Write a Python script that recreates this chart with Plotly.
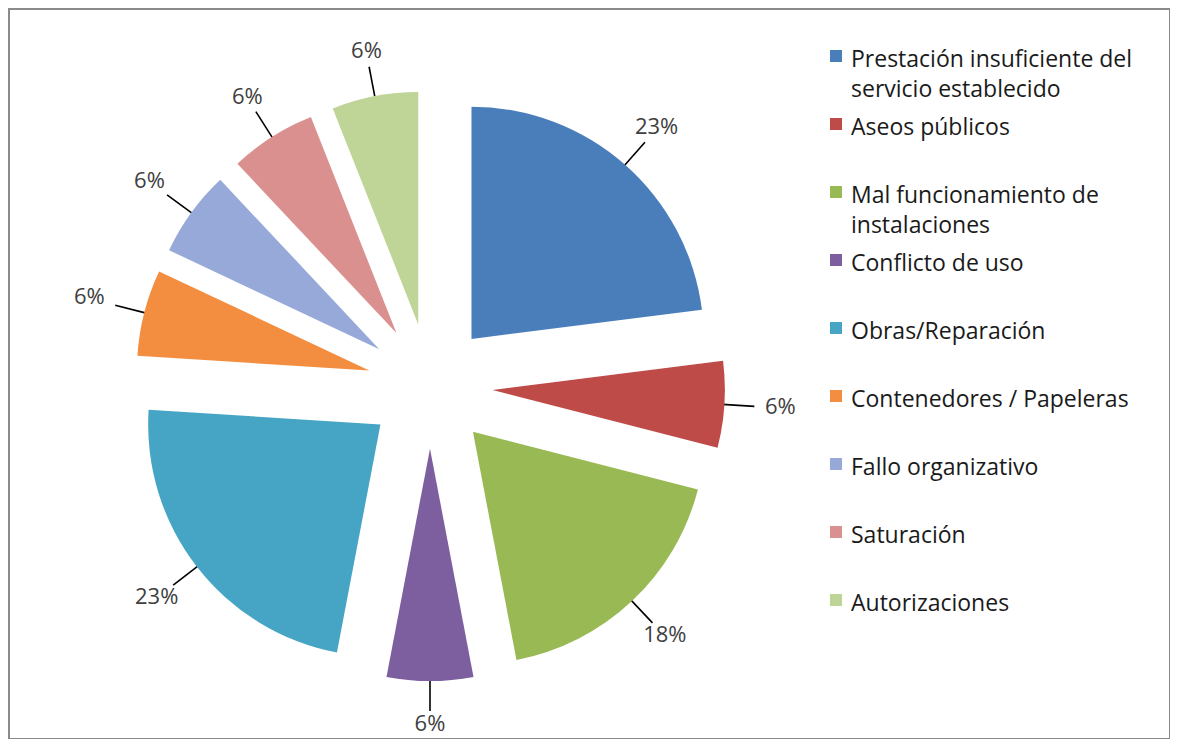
import numpy as np
import plotly.graph_objects as go

# page has an 8px body margin, so the figure is sized to fit inside it
OFF = 8
W, H = 1178 - 2 * OFF, 747 - 2 * OFF

# data
categories = [
    "Prestación insuficiente del servicio establecido",
    "Aseos públicos",
    "Mal funcionamiento de instalaciones",
    "Conflicto de uso",
    "Obras/Reparación",
    "Contenedores / Papeleras",
    "Fallo organizativo",
    "Saturación",
    "Autorizaciones",
]
legend_text = [
    "Prestación insuficiente del<br>servicio establecido",
    "Aseos públicos",
    "Mal funcionamiento de<br>instalaciones",
    "Conflicto de uso",
    "Obras/Reparación",
    "Contenedores / Papeleras",
    "Fallo organizativo",
    "Saturación",
    "Autorizaciones",
]
shares = [23, 6, 18, 6, 23, 6, 6, 6, 6]

colors = [
    "#4A7EBB",  # blue
    "#BE4B48",  # red
    "#98B954",  # green
    "#7D5FA0",  # purple
    "#46A5C4",  # teal
    "#F38D3F",  # orange
    "#96A9D9",  # light blue
    "#D9908E",  # pink
    "#BFD497",  # light green
]

FONT = "Open Sans"

# pie geometry in screen pixels (y downwards)
cx, cy = 430, 386
pull = 0.27
outer = 295          # radius + pull offset


def px(x):
    return (x - OFF) / W


def py(y):
    return 1 - (y - OFF) / H


fig = go.Figure()

fig.add_trace(go.Pie(
    labels=categories,
    values=shares,
    sort=False,
    direction="clockwise",
    rotation=0,
    pull=pull,
    marker=dict(colors=colors, line=dict(width=0)),
    textinfo="none",
    hoverinfo="label+percent",
    showlegend=False,
    domain=dict(x=[px(cx - outer), px(cx + outer)],
                y=[py(cy + outer), py(cy - outer)]),
))

# leader lines and percentage labels, placed from the slice mid-angles
v = np.array(shares, dtype=float)
mid = (np.cumsum(v) - v / 2) / v.sum() * 2 * np.pi
ux, uy = np.sin(mid), -np.cos(mid)

line_len = 30
lx, ly = [], []
for a, b in zip(ux, uy):
    lx += [cx + (outer - 2) * a, cx + (outer + line_len) * a, None]
    ly += [cy + (outer - 2) * b, cy + (outer + line_len) * b, None]
fig.add_trace(go.Scatter(x=lx, y=ly, mode="lines",
                         line=dict(color="black", width=1.6),
                         hoverinfo="skip", showlegend=False))

hw, hh = 23, 11
tx, ty = [], []
for a, b in zip(ux, uy):
    d = min(hw / max(abs(a), 1e-6), hh / max(abs(b), 1e-6)) + 3
    tx.append(cx + (outer + line_len + d) * a)
    ty.append(cy + (outer + line_len + d) * b)
fig.add_trace(go.Scatter(x=tx, y=ty, mode="text",
                         text=[f"{s}%" for s in shares],
                         textfont=dict(family=FONT, size=22, color="#404040"),
                         hoverinfo="skip", showlegend=False))

# legend drawn on the right
leg_x, leg_y0, leg_step = 836, 56, 68
leg_y = [leg_y0 + i * leg_step for i in range(len(categories))]
fig.add_trace(go.Scatter(x=[leg_x] * len(categories), y=leg_y, mode="markers",
                         marker=dict(symbol="square", size=12, color=colors),
                         hoverinfo="skip", showlegend=False))
for txt, y in zip(legend_text, leg_y):
    fig.add_annotation(x=leg_x + 13, y=y - 16, xref="x", yref="y",
                       text=txt, showarrow=False, xanchor="left", yanchor="top",
                       align="left", font=dict(family=FONT, size=23, color="#1a1a1a"))

fig.add_shape(type="rect", xref="x", yref="y", x0=9, x1=1170, y0=9, y1=739,
              line=dict(color="#8a8a8a", width=2), layer="below")

fig.update_xaxes(range=[OFF, OFF + W], visible=False, fixedrange=True)
fig.update_yaxes(range=[OFF + H, OFF], visible=False, fixedrange=True)
fig.update_layout(
    width=W, height=H,
    margin=dict(l=0, r=0, t=0, b=0),
    paper_bgcolor="white", plot_bgcolor="white",
    font=dict(family=FONT),
)

fig.write_html("out.html")
